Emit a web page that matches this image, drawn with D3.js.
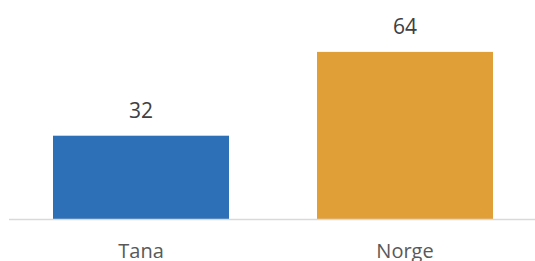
<!DOCTYPE html>
<html>
<head>
<meta charset="utf-8">
<script src="https://cdn.jsdelivr.net/npm/d3@7"></script>
<style>
  body { margin: 0; background: #fff; }
  svg { display: block; font-family: "Open Sans", sans-serif; }
</style>
</head>
<body>
<div id="chart"></div>
<script>
// chart data
const categories = ["Tana", "Norge"];
const values = [32, 64];
const barColors = ["#2E70B8", "#E09F37"];

const width = 535, height = 261;

const svg = d3.select("#chart").append("svg")
  .attr("width", width)
  .attr("height", height);

// scales
const x = d3.scaleBand()
  .domain(categories)
  .range([9, 537])
  .paddingInner(1 / 3)
  .paddingOuter(1 / 6);

const y = d3.scaleLinear()
  .domain([0, 80])
  .range([219.5, 10]);

// bars
svg.selectAll("rect.bar")
  .data(values)
  .enter().append("rect")
  .attr("class", "bar")
  .attr("x", (d, i) => x(categories[i]))
  .attr("y", d => y(d))
  .attr("width", x.bandwidth())
  .attr("height", d => y(0) - y(d))
  .attr("fill", (d, i) => barColors[i]);

// baseline axis
const xAxis = svg.append("g")
  .attr("transform", `translate(0,${y(0)})`)
  .call(d3.axisBottom(x).tickSize(0).tickPadding(24));
xAxis.select(".domain").attr("stroke", "#D9D9D9").attr("stroke-width", 1.5)
  .attr("d", "M9,0H535");
xAxis.selectAll("text")
  .attr("fill", "#595959")
  .style("font-size", "20px")
  .style("font-family", "Open Sans, sans-serif");

// value labels
svg.selectAll("text.val")
  .data(values)
  .enter().append("text")
  .attr("class", "val")
  .attr("x", (d, i) => x(categories[i]) + x.bandwidth() / 2)
  .attr("y", d => y(d) - 17.5)
  .attr("text-anchor", "middle")
  .attr("fill", "#404040")
  .style("font-size", "21px")
  .text(d => d);
</script>
</body>
</html>
